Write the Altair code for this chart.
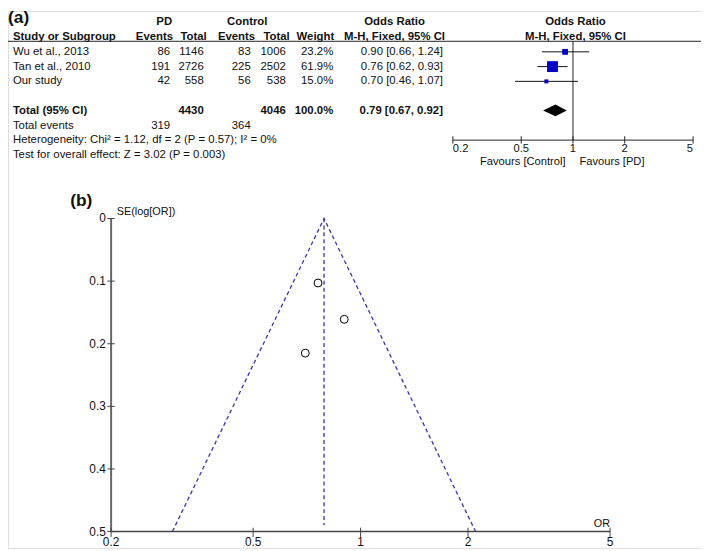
import altair as alt
import pandas as pd

# ---------------- data ----------------
studies = ["Wu et al., 2013", "Tan et al., 2010", "Our study"]
pd_events = [86, 191, 42]
pd_total = [1146, 2726, 558]
ctrl_events = [83, 225, 56]
ctrl_total = [1006, 2502, 538]
weights = [23.2, 61.9, 15.0]
or_est = [0.90, 0.76, 0.70]
or_lo = [0.66, 0.62, 0.46]
or_hi = [1.24, 0.93, 1.07]
total_pd, total_ctrl, total_weight = 4430, 4046, 100.0
total_or, total_lo, total_hi = 0.79, 0.67, 0.92
events_pd, events_ctrl = 319, 364
het_text = "Heterogeneity: Chi\u00b2 = 1.12, df = 2 (P = 0.57); I\u00b2 = 0%"
test_text = "Test for overall effect: Z = 3.02 (P = 0.003)"
or_ticks = [0.2, 0.5, 1, 2, 5]
or_tick_labels = ["0.2", "0.5", "1", "2", "5"]
se_values = [0.161, 0.103, 0.215]
se_ticks = [0, 0.1, 0.2, 0.3, 0.4, 0.5]
se_tick_labels = ["0", "0.1", "0.2", "0.3", "0.4", "0.5"]
funnel_or = [0.297, 0.79, 2.10]
funnel_se = [0.5, 0.0, 0.5]

# ---------------- layout helpers ----------------
W, H = 701, 543
FONT = "Liberation Sans"
INK = "#111111"
BLUE = "#0000c8"
DASH = "#3434b0"
FS = 11.5


def X(x):
    return x - 5


def Y(y):
    return (y - 1.5) * 0.985


row_keys = ["h1", "h2", "s0", "s1", "s2", "gap", "tot", "ev", "het", "test"]
y_rows_scale = alt.Scale(type="point", domain=row_keys,
                         range=[Y(13), Y(149.5)], padding=0)

layers = []

# ---------------- table text ----------------
tbl = []
tbl += [("h1", "pd_h", "PD", True), ("h1", "ctrl_h", "Control", True),
        ("h1", "or_h", "Odds Ratio", True), ("h1", "fo_h", "Odds Ratio", True)]
tbl += [("h2", "study", "Study or Subgroup", True), ("h2", "pde_h", "Events", True),
        ("h2", "pdt_h", "Total", True), ("h2", "ce_h", "Events", True),
        ("h2", "ct_h", "Total", True), ("h2", "w_h", "Weight", True),
        ("h2", "or_h", "M-H, Fixed, 95% CI", True), ("h2", "fo_h", "M-H, Fixed, 95% CI", True)]
for i, s in enumerate(studies):
    r = f"s{i}"
    tbl += [(r, "study", s, False), (r, "pde", str(pd_events[i]), False),
            (r, "pdt", str(pd_total[i]), False), (r, "ce", str(ctrl_events[i]), False),
            (r, "ct", str(ctrl_total[i]), False), (r, "w", f"{weights[i]:.1f}%", False),
            (r, "ortxt", f"{or_est[i]:.2f} [{or_lo[i]:.2f}, {or_hi[i]:.2f}]", False)]
tbl += [("tot", "study", "Total (95% CI)", True), ("tot", "pdt", str(total_pd), True),
        ("tot", "ct", str(total_ctrl), True), ("tot", "w", f"{total_weight:.1f}%", True),
        ("tot", "ortxt", f"{total_or:.2f} [{total_lo:.2f}, {total_hi:.2f}]", True)]
tbl += [("ev", "study", "Total events", False), ("ev", "pde", str(events_pd), False),
        ("ev", "ce", str(events_ctrl), False)]
tbl += [("het", "study", het_text, False), ("test", "study", test_text, False)]

slots = {
    "study": (10, "left"),
    "pd_h": (163, "center"), "ctrl_h": (247, "center"),
    "or_h": (396, "center"), "fo_h": (579, "center"),
    "pde_h": (172, "right"), "pdt_h": (206, "right"), "ce_h": (255, "right"),
    "ct_h": (290, "right"), "w_h": (335, "right"),
    "pde": (169, "right"), "pdt": (203, "right"), "ce": (250.5, "right"),
    "ct": (286, "right"), "w": (334, "right"), "ortxt": (445, "right"),
}

tdf = pd.DataFrame(tbl, columns=["row", "slot", "text", "bold"])
for (slot, bold), g in tdf.groupby(["slot", "bold"]):
    xr, al = slots[slot]
    layers.append(
        alt.Chart(g).mark_text(align=al, baseline="middle", font=FONT, fontSize=FS,
                               fontWeight="bold" if bold else "normal", color=INK)
        .encode(x=alt.value(X(xr)),
                y=alt.Y("row:N", scale=y_rows_scale, axis=None),
                text="text:N")
    )

# panel labels
lab = pd.DataFrame({"t": ["(a)"]})
layers.append(alt.Chart(lab).mark_text(align="left", baseline="middle", font=FONT,
                                       fontSize=17.5, fontWeight="bold", color=INK)
              .encode(x=alt.value(X(5)), y=alt.value(Y(9)), text="t:N"))
labb = pd.DataFrame({"t": ["(b)"]})
layers.append(alt.Chart(labb).mark_text(align="left", baseline="middle", font=FONT,
                                        fontSize=17.5, fontWeight="bold", color=INK)
              .encode(x=alt.value(X(68)), y=alt.value(Y(197)), text="t:N"))

# header line
layers.append(alt.Chart(pd.DataFrame({"a": [0]})).mark_rule(color="#222222", strokeWidth=1)
              .encode(x=alt.value(0), x2=alt.value(W), y=alt.value(Y(32.5))))

# ---------------- forest plot ----------------
xf = alt.Scale(type="log", domain=[0.2, 5], range=[X(455), X(698)])
fdf = pd.DataFrame({"row": [f"s{i}" for i in range(len(studies))],
                    "est": or_est, "lo": or_lo, "hi": or_hi, "w": weights})

# reference line at OR = 1
layers.append(alt.Chart(pd.DataFrame({"a": [0]})).mark_rule(color="#222222", strokeWidth=1)
              .encode(x=alt.X(datum=1, type="quantitative", scale=xf, axis=None),
                      y=alt.value(Y(32.5)), y2=alt.value(Y(134))))
# CI lines
layers.append(alt.Chart(fdf).mark_rule(color=INK, strokeWidth=1)
              .encode(x=alt.X("lo:Q", scale=xf, axis=None), x2="hi:Q",
                      y=alt.Y("row:N", scale=y_rows_scale, axis=None)))
# squares
layers.append(alt.Chart(fdf).mark_square(color=BLUE, opacity=1, filled=True)
              .encode(x=alt.X("est:Q", scale=xf, axis=None),
                      y=alt.Y("row:N", scale=y_rows_scale, axis=None),
                      size=alt.Size("w:Q", scale=alt.Scale(domain=[15, 61.9], range=[16, 121]),
                                    legend=None)))
# diamond
ddf = pd.DataFrame({"x": [total_lo, total_or, total_hi],
                    "y": [0, 1, 0], "y2": [0, -1, 0]})
dy = Y(103.5)
layers.append(alt.Chart(ddf).mark_area(color="black", orient="vertical", opacity=1)
              .encode(x=alt.X("x:Q", scale=xf, axis=None),
                      y=alt.Y("y:Q", scale=alt.Scale(domain=[-1, 1], range=[dy + 6, dy - 6]),
                              axis=None),
                      y2="y2:Q"))
# forest axis
layers.append(alt.Chart(pd.DataFrame({"a": [0]})).mark_rule(color="#222222", strokeWidth=1)
              .encode(x=alt.X(datum=or_ticks[0], type="quantitative", scale=xf, axis=None),
                      x2=alt.X2(datum=or_ticks[-1]),
                      y=alt.value(Y(134))))
tdf2 = pd.DataFrame({"v": or_ticks, "lab": or_tick_labels, "i": range(len(or_ticks))})
layers.append(alt.Chart(tdf2).mark_rule(color="#222222", strokeWidth=1)
              .encode(x=alt.X("v:Q", scale=xf, axis=None),
                      y=alt.value(Y(130)), y2=alt.value(Y(137.5))))
n = len(or_ticks)
for cond, al in [(f"datum.i == 0", "left"), (f"datum.i > 0 && datum.i < {n-1}", "center"),
                 (f"datum.i == {n-1}", "right")]:
    layers.append(alt.Chart(tdf2).transform_filter(cond)
                  .mark_text(align=al, baseline="middle", font=FONT, fontSize=11.3, color=INK)
                  .encode(x=alt.X("v:Q", scale=xf, axis=None), y=alt.value(Y(143.5)),
                          text="lab:N"))
fav = pd.DataFrame({"t": ["Favours [Control]"]})
layers.append(alt.Chart(fav).mark_text(align="right", baseline="middle", font=FONT,
                                       fontSize=11.3, color=INK)
              .encode(x=alt.value(X(569)), y=alt.value(Y(157)), text="t:N"))
fav2 = pd.DataFrame({"t": ["Favours [PD]"]})
layers.append(alt.Chart(fav2).mark_text(align="left", baseline="middle", font=FONT,
                                        fontSize=11.3, color=INK)
              .encode(x=alt.value(X(583)), y=alt.value(Y(157)), text="t:N"))

# ---------------- funnel plot ----------------
xfun = alt.Scale(type="log", domain=[0.2, 5], range=[X(109.3), X(614)])
yfun = alt.Scale(domain=[0, 0.5], range=[Y(214.5), Y(536)], nice=False, zero=False)

# axes lines
layers.append(alt.Chart(pd.DataFrame({"a": [0]})).mark_rule(color="#666666", strokeWidth=2)
              .encode(x=alt.X(datum=0.2, type="quantitative", scale=xfun, axis=None),
                      y=alt.Y(datum=0, type="quantitative", scale=yfun, axis=None),
                      y2=alt.Y2(datum=0.5)))
layers.append(alt.Chart(pd.DataFrame({"a": [0]})).mark_rule(color="#444444", strokeWidth=1.5)
              .encode(x=alt.X(datum=0.2, type="quantitative", scale=xfun, axis=None),
                      x2=alt.X2(datum=5),
                      y=alt.Y(datum=0.5, type="quantitative", scale=yfun, axis=None)))
sedf = pd.DataFrame({"v": se_ticks, "lab": se_tick_labels})
layers.append(alt.Chart(sedf).mark_rule(color="#444444", strokeWidth=1)
              .encode(y=alt.Y("v:Q", scale=yfun, axis=None),
                      x=alt.value(X(105.5)), x2=alt.value(X(113))))
layers.append(alt.Chart(sedf).mark_text(align="right", baseline="middle", font=FONT,
                                        fontSize=12, color=INK)
              .encode(y=alt.Y("v:Q", scale=yfun, axis=None), x=alt.value(X(104)),
                      text="lab:N"))
layers.append(alt.Chart(tdf2).mark_rule(color="#444444", strokeWidth=1)
              .encode(x=alt.X("v:Q", scale=xfun, axis=None),
                      y=alt.value(Y(532)), y2=alt.value(Y(541.5))))
layers.append(alt.Chart(tdf2).mark_text(align="center", baseline="middle", font=FONT,
                                        fontSize=12, color=INK)
              .encode(x=alt.X("v:Q", scale=xfun, axis=None), y=alt.value(Y(546.5)),
                      text="lab:N"))
# funnel lines
fun = pd.DataFrame({"x": funnel_or, "y": funnel_se})
layers.append(alt.Chart(fun).mark_line(color=DASH, strokeWidth=1.3, strokeDash=[4, 3])
              .encode(x=alt.X("x:Q", scale=xfun, axis=None),
                      y=alt.Y("y:Q", scale=yfun, axis=None)))
layers.append(alt.Chart(pd.DataFrame({"a": [0]}))
              .mark_rule(color=DASH, strokeWidth=1.3, strokeDash=[4, 3])
              .encode(x=alt.X(datum=total_or, type="quantitative", scale=xfun, axis=None),
                      y=alt.Y(datum=0, type="quantitative", scale=yfun, axis=None),
                      y2=alt.Y2(datum=0.49)))
# study points
pdf = pd.DataFrame({"or": or_est, "se": se_values})
layers.append(alt.Chart(pdf).mark_point(shape="circle", filled=False, color="black",
                                        size=64, strokeWidth=1, opacity=1)
              .encode(x=alt.X("or:Q", scale=xfun, axis=None),
                      y=alt.Y("se:Q", scale=yfun, axis=None)))
# axis titles
layers.append(alt.Chart(pd.DataFrame({"t": ["SE(log[OR])"]}))
              .mark_text(align="left", baseline="middle", font=FONT, fontSize=11, color=INK)
              .encode(x=alt.value(X(115)), y=alt.value(Y(208)), text="t:N"))
layers.append(alt.Chart(pd.DataFrame({"t": ["OR"]}))
              .mark_text(align="right", baseline="middle", font=FONT, fontSize=11, color=INK)
              .encode(x=alt.value(X(614)), y=alt.value(Y(528)), text="t:N"))

chart = (
    alt.layer(*layers)
    .resolve_scale(x="independent", y="independent", size="independent")
    .properties(width=W, height=H, padding=0, autosize=alt.AutoSizeParams(type="none"))
    .configure_view(stroke=None)
    .configure(background="white")
)

chart.save("out.html", embed_options={"renderer": "svg", "actions": False})
